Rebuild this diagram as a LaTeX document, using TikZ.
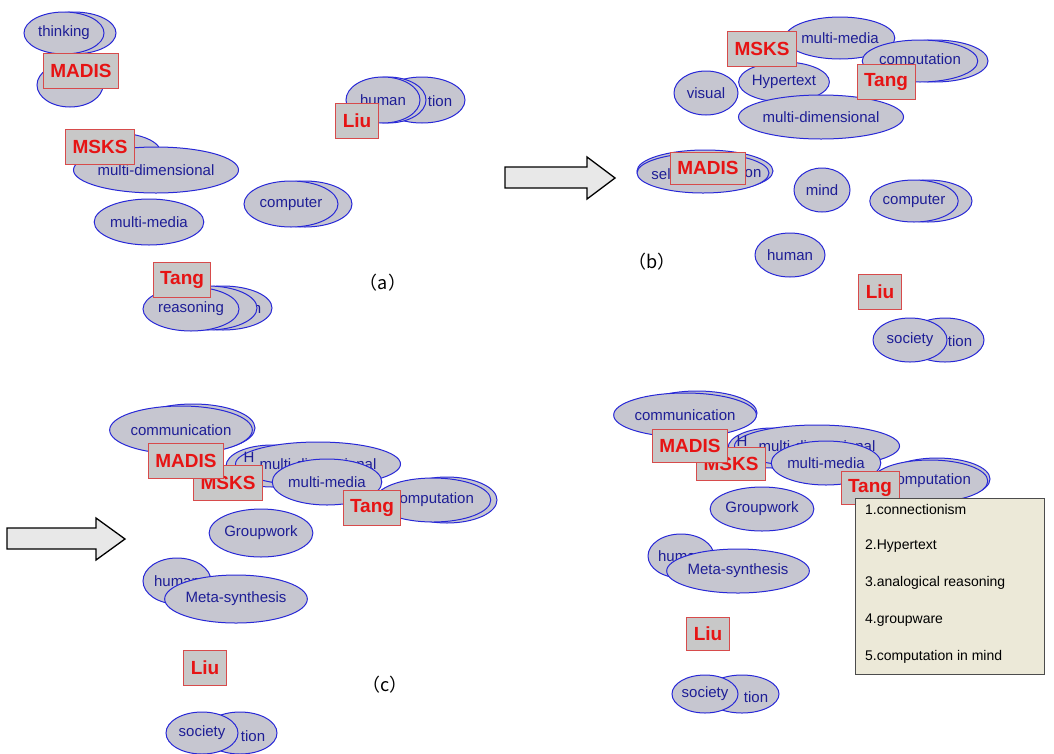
\documentclass[tikz,border=0pt]{standalone}
\usepackage{fontspec}
\setmainfont{Liberation Sans}
\newfontfamily\cjkfont{Noto Sans CJK JP}
\usetikzlibrary{shapes.geometric}

\definecolor{kwfill}{RGB}{198,198,208}
\definecolor{kwline}{RGB}{40,40,215}
\definecolor{kwtext}{RGB}{30,30,150}
\definecolor{whofill}{RGB}{200,200,200}
\definecolor{wholine}{RGB}{215,75,75}
\definecolor{whotext}{RGB}{230,20,20}
\definecolor{popfill}{RGB}{236,233,216}

\tikzset{
	kw/.style={ellipse, draw=kwline, line width=1pt, fill=kwfill, text=kwtext, inner sep=0pt,
		font=\fontsize{15}{17}\selectfont},
	ew/.style 2 args={minimum width=#1pt, minimum height=#2pt},
	kwbit/.style={text=kwtext, inner sep=0pt, font=\fontsize{15}{17}\selectfont},
	who/.style={rectangle, draw=wholine, line width=1pt, fill=whofill, text=whotext,
		font=\fontsize{19}{21}\selectfont\bfseries, inner xsep=7pt, inner ysep=0pt, minimum height=35pt},
	tag/.style={font=\cjkfont\fontsize{18}{20}\selectfont},
	pick/.style={anchor=west, inner sep=0pt, font=\fontsize{14}{16}\selectfont},
	bigarrow/.style={draw=black, line width=1.3pt, fill=black!9}
}

\begin{document}
\begin{tikzpicture}[x=1pt,y=-1pt]
			\fill[white] (0,0) rectangle (1054,753);
			\useasboundingbox (0,0) rectangle (1054,753);
			
			\draw[bigarrow] (505,167)--(587,167)--(587,157)--(615,178)--(587,199)--(587,188)--(505,188)--cycle;
			\draw[bigarrow] (7,528)--(96,528)--(96,518)--(125,539)--(96,560)--(96,549)--(7,549)--cycle;
			
			% (a)
			\node [kw,ew={84}{42}] (thinkA0) at (74,33) {};
			\node [kw,ew={80}{42}] (thinkA) at (64,33) {thinking};
			\node [kw,ew={66}{44}] (hidA) at (70,85) {};
			\node [who] (madisA) at (81,71) {MADIS};
			\node [kw,ew={86}{46}] (tionA0) at (422,100) {};
			\node [kwbit] (tionA) at (440,101) {tion};
			\node [kw,ew={76}{46}] (tionA1) at (388,100) {};
			\node [kw,ew={74}{46}] (humanA) at (383,100) {human};
			\node [who] (liuA) at (357,121) {Liu};
			\node [kw,ew={90}{40}] (hidA1) at (116,153) {};
			\node [kw,ew={148}{46}] (mdimA) at (156,170) {multi-dimensional};
			\node [who] (msksA) at (100,147) {MSKS};
			\node [kw,ew={106}{46}] (mmediaA) at (149,222) {multi-media};
			\node [kw,ew={94}{46}] (compA0) at (305,204) {};
			\node [kw,ew={94}{46}] (compA) at (291,204) {computer};
			\node [kw,ew={98}{44}] (reasA0) at (223,308) {};
			\node [kwbit] (nA) at (257,309) {n};
			\node [kw,ew={98}{44}] (reasA1) at (208,308) {};
			\node [kw,ew={96}{44}] (reasA) at (191,309) {reasoning};
			\node [who] (tangA) at (182,280) {Tang};
			\node [tag] (capA) at (383,283) {（a）};
			
			% (b)
			\node [kw,ew={96}{42}] (mmediaB) at (840,38) {multi-media};
			\node [kw,ew={106}{42}] (compuB0) at (935,61) {};
			\node [kw,ew={104}{42}] (compuB) at (920,61) {computation};
			\node [kw,ew={90}{40}] (hyperB) at (784,82) {Hypertext};
			\node [kw,ew={136}{44}] (mdimB) at (821,117) {multi-dimensional};
			\node [kw,ew={64}{44}] (visualB) at (706,93) {visual};
			\node [who] (msksB) at (762,49) {MSKS};
			\node [who] (tangB) at (886,82) {Tang};
			\node [kw,ew={136}{42}] (selfB0) at (705,171) {};
			\node [kw,ew={132}{40}] (selfB) at (703,173) {};
			\node [kwbit] (selB) at (661,174) {sel};
			\node [kwbit] (onB) at (753,174) {on};
			\node [who,minimum height=32pt] (madisB) at (708,168) {MADIS};
			\node [kw,ew={56}{44}] (mindB) at (822,190) {mind};
			\node [kw,ew={88}{42}] (compB0) at (928,201) {};
			\node [kw,ew={88}{42}] (compB) at (914,201) {computer};
			\node [kw,ew={70}{44}] (humanB) at (790,255) {human};
			\node [who] (liuB) at (880,292) {Liu};
			\node [kw,ew={78}{44}] (socB0) at (945,340) {};
			\node [kwbit] (tionB) at (960,341) {tion};
			\node [kw,ew={74}{44}] (socB) at (910,340) {society};
			\node [tag] (capB) at (652,262) {（b）};
			
			% (c)
			\node [kw,ew={124}{48}] (commC0) at (193,428) {};
			\node [kw,ew={124}{48}] (commC) at (181,430) {communication};
			\node [kw,ew={92}{42}] (hyperC) at (272,466) {};
			\node [kw,ew={138}{44}] (mdimC) at (318,464) {multi-dimensional};
			\node [kwbit] (hC) at (249,457) {H};
			\node [kw,ew={96}{46}] (mmediaC) at (327,482) {multi-media};
			\node [who] (msksC) at (228,483) {MSKS};
			\node [who] (madisC) at (186,461) {MADIS};
			\node [kw,ew={100}{46}] (compuC0) at (447,500) {};
			\node [kw,ew={100}{44}] (compuC) at (433,500) {computation};
			\node [who] (tangC) at (372,508) {Tang};
			\node [kw,ew={100}{48}] (groupC) at (261,533) {Groupwork};
			\node [kw,ew={68}{46}] (humanC) at (177,581) {human};
			\node [kw,ew={126}{48}] (metaC) at (236,599) {Meta-synthesis};
			\node [who] (liuC) at (205,668) {Liu};
			\node [kw,ew={74}{42}] (socC0) at (240,733) {};
			\node [kwbit] (tionC) at (253,736) {tion};
			\node [kw,ew={72}{42}] (socC) at (202,733) {society};
			\node [tag] (capC) at (385,685) {（c）};
			
			% (d)
			\node [kw,ew={120}{44}] (commD0) at (697,413) {};
			\node [kw,ew={118}{44}] (commD) at (685,415) {communication};
			\node [kw,ew={88}{40}] (hyperD) at (772,448) {};
			\node [kw,ew={130}{42}] (mdimD) at (817,446) {multi-dimensional};
			\node [kwbit] (hD) at (742,441) {H};
			\node [kw,ew={92}{44}] (mmediaD) at (826,463) {multi-media};
			\node [who,minimum height=33pt] (msksD) at (731,464) {MSKS};
			\node [who,minimum height=33pt] (madisD) at (690,446) {MADIS};
			\node [kw,ew={106}{42}] (compuD0) at (937,479) {};
			\node [kw,ew={96}{42}] (compuD) at (930,481) {computation};
			\node [who,minimum height=33pt] (tangD) at (870,488) {Tang};
			\node [kw,ew={98}{44}] (groupD) at (762,509) {Groupwork};
			\node [kw,ew={66}{44}] (humanD) at (681,556) {human};
			\node [kw,ew={122}{44}] (metaD) at (738,571) {Meta-synthesis};
			\node [who,minimum height=33pt] (liuD) at (708,634) {Liu};
			\node [kw,ew={74}{38}] (socD0) at (742,694) {};
			\node [kwbit] (tionD) at (756,697) {tion};
			\node [kw,ew={66}{38}] (socD) at (705,694) {society};
			
			\draw[fill=popfill, draw=black!70, line width=1pt] (855,498) rectangle (1044,674);
			\node [pick] (pick1) at (865,509) {1.connectionism};
			\node [pick] (pick2) at (865,546) {2.Hypertext};
			\node [pick] (pick3) at (865,583) {3.analogical reasoning};
			\node [pick] (pick4) at (865,620) {4.groupware};
			\node [pick] (pick5) at (865,657) {5.computation in mind};
		\end{tikzpicture}
\end{document}
